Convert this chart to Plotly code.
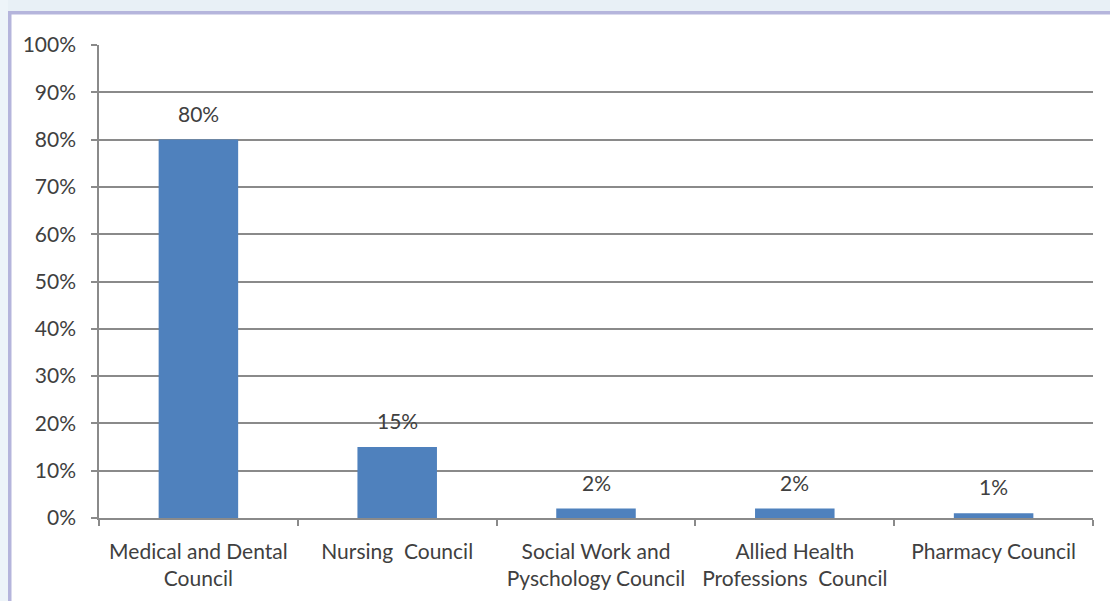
import plotly.graph_objects as go

# Share of registrations by council (percent)
councils = [
    "Medical and Dental<br>Council",
    "Nursing\u00a0 Council",
    "Social Work and<br>Pyschology Council",
    "Allied Health<br>Professions\u00a0 Council",
    "Pharmacy Council",
]
shares = [80, 15, 2, 2, 1]
y_ticks = list(range(0, 101, 10))

W, H = 1110, 601
L, R, T, B = 99, 1093, 45, 518  # plot area edges in pixels

def px_x(x):
    return (x - L) / (R - L)

def px_y(y):
    return (B - y) / (B - T)

FONT = "Lato"
FS = 21
TEXT = "#404040"
GRID = "#8a8a8a"

fig = go.Figure(
    go.Bar(
        x=councils,
        y=shares,
        marker=dict(color="#4f81bd", line=dict(width=0)),
        hoverinfo="skip",
    )
)

# value labels above each bar
for c, v in zip(councils, shares):
    fig.add_annotation(
        x=c, y=v, text=f"{v}%", showarrow=False,
        yanchor="bottom", yshift=12,
        font=dict(family=FONT, size=FS, color=TEXT),
    )

# outer page band and the lavender frame edge
shapes = [
    dict(type="rect", xref="paper", yref="paper",
         x0=px_x(0), x1=px_x(W), y0=px_y(0), y1=px_y(11),
         fillcolor="#e8f0f6", line=dict(width=0), layer="below"),
    dict(type="rect", xref="paper", yref="paper",
         x0=px_x(0), x1=px_x(8), y0=px_y(0), y1=px_y(H),
         fillcolor="#edf4f9", line=dict(width=0), layer="below"),
    dict(type="rect", xref="paper", yref="paper",
         x0=px_x(8), x1=px_x(W), y0=px_y(11), y1=px_y(14.5),
         fillcolor="#b5b5dc", line=dict(width=0), layer="below"),
    dict(type="rect", xref="paper", yref="paper",
         x0=px_x(8), x1=px_x(11.5), y0=px_y(11), y1=px_y(H),
         fillcolor="#b5b5dc", line=dict(width=0), layer="below"),
]

fig.update_layout(
    width=W, height=H,
    margin=dict(l=L, r=W - R, t=T, b=H - B, pad=0),
    paper_bgcolor="white",
    plot_bgcolor="white",
    bargap=0.6,
    showlegend=False,
    shapes=shapes,
    font=dict(family=FONT, size=FS, color=TEXT),
)

fig.update_xaxes(
    type="category",
    tickson="boundaries",
    ticks="outside", ticklen=6, tickwidth=1.5, tickcolor=GRID,
    showline=True, linecolor=GRID, linewidth=1.5,
    showgrid=False,
    tickfont=dict(family=FONT, size=FS, color=TEXT),
    ticklabelstandoff=14,
)

fig.update_yaxes(
    range=[0, 100],
    tickvals=y_ticks,
    ticktext=[f"{t}%" for t in y_ticks],
    ticks="outside", ticklen=6, tickwidth=1.5, tickcolor=GRID,
    showline=True, linecolor=GRID, linewidth=1.5,
    showgrid=True, gridcolor=GRID, gridwidth=1.5,
    zeroline=False,
    tickfont=dict(family=FONT, size=FS, color=TEXT),
    ticklabelstandoff=11,
)

fig.write_html("out.html")
